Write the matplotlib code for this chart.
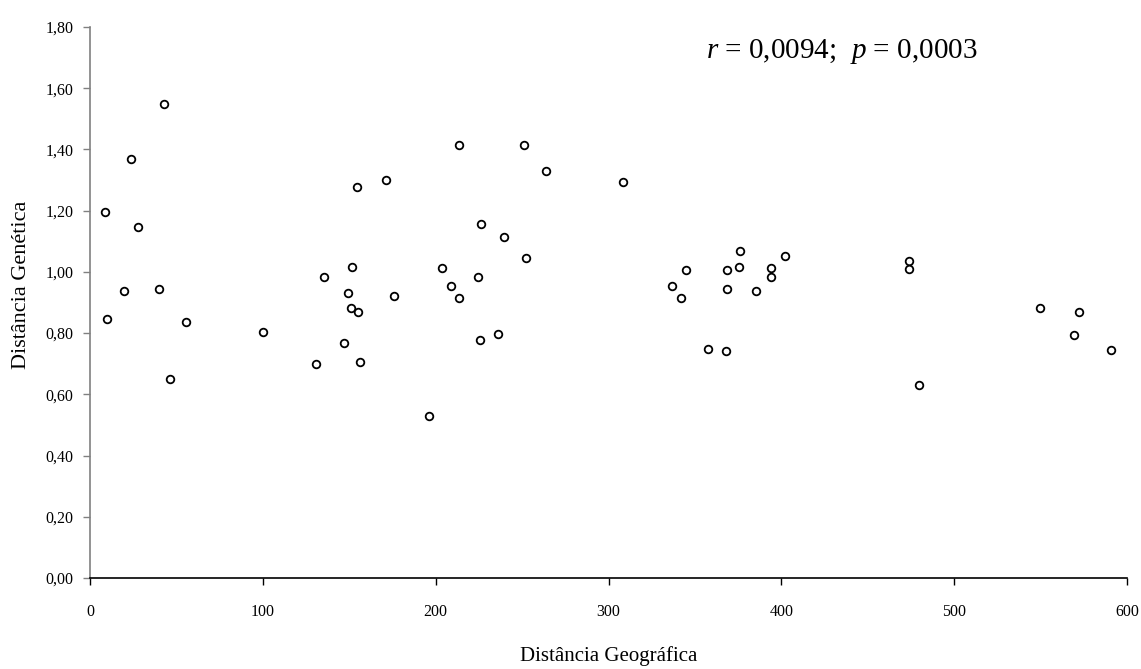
import matplotlib
matplotlib.use("Agg")
import matplotlib.pyplot as plt
from matplotlib.ticker import FuncFormatter

# Data
geo_dist = [43.0, 23.7, 8.7, 28.0, 19.5, 39.7, 9.6, 55.6, 100.0, 46.3,
            213.7, 251.3, 263.9, 171.1, 154.3, 226.5, 239.6, 252.3, 151.8, 203.5,
            135.2, 224.7, 208.7, 149.3, 176.1, 213.7, 151.2, 155.3, 236.3, 146.8,
            225.5, 130.8, 156.1, 196.2,
            308.3, 345.1, 336.8, 341.8, 357.6, 367.7,
            376.2, 402.2, 375.4, 368.8, 393.9, 393.9, 368.8, 385.4,
            474.1, 474.1, 479.9, 549.4, 572.2, 569.6, 590.5]
gen_dist = [1.549, 1.368, 1.197, 1.147, 0.938, 0.943, 0.846, 0.835, 0.802, 0.649,
            1.414, 1.414, 1.328, 1.299, 1.277, 1.158, 1.113, 1.046, 1.017, 1.012,
            0.983, 0.983, 0.954, 0.931, 0.922, 0.914, 0.881, 0.869, 0.797, 0.768,
            0.779, 0.698, 0.706, 0.530,
            1.294, 1.005, 0.954, 0.914, 0.749, 0.740,
            1.068, 1.051, 1.017, 1.005, 1.012, 0.982, 0.943, 0.938,
            1.035, 1.010, 0.632, 0.881, 0.870, 0.795, 0.746]
x_ticks = [0, 100, 200, 300, 400, 500, 600]
y_ticks = [0.0, 0.2, 0.4, 0.6, 0.8, 1.0, 1.2, 1.4, 1.6, 1.8]
x_label = "Distância Geográfica"
y_label = "Distância Genética"
annotation = "$r$ = 0,0094;  $p$ = 0,0003"

plt.rcParams['font.family'] = ['Liberation Serif', 'DejaVu Serif']
plt.rcParams['mathtext.fontset'] = 'custom'
plt.rcParams['mathtext.it'] = 'Liberation Serif:italic'
plt.rcParams['mathtext.rm'] = 'Liberation Serif'

W, H = 1141, 669
L, R, T, B = 90, 1127, 27, 578
fig = plt.figure(figsize=(W/100, H/100), dpi=100)
ax = fig.add_axes([L/W, 1-B/H, (R-L)/W, (B-T)/H])

ax.scatter(geo_dist, gen_dist, s=30, facecolors='white', edgecolors='black',
           linewidths=1.3, zorder=3, clip_on=False)

ax.set_xlim(0, 600)
ax.set_ylim(0, 1.8)
ax.set_xticks(x_ticks)
ax.set_yticks(y_ticks)
ax.yaxis.set_major_formatter(FuncFormatter(lambda v, p: f"{v:.2f}".replace('.', ',')))
ax.tick_params(axis='x', direction='out', length=5, width=1, labelsize=11.5, pad=14, color='black')
ax.tick_params(axis='y', direction='out', length=5, width=1, labelsize=11.5, pad=7, color='#808080')

for s in ['top', 'right']:
    ax.spines[s].set_visible(False)
ax.spines['left'].set_color('#808080')
ax.spines['left'].set_linewidth(1.2)
ax.spines['bottom'].set_color('black')
ax.spines['bottom'].set_linewidth(1.2)

ax.set_xlabel(x_label, fontsize=15, va='center')
ax.xaxis.set_label_coords(0.5, -(656-B)/(B-T))
ax.set_ylabel(y_label, fontsize=16, va='center')
ax.yaxis.set_label_coords(-(L-22)/(R-L), (B-285)/(B-T))

ax.text(356.5, 1.72, annotation, fontsize=21, ha='left', va='center')

fig.savefig("out.png", dpi=100)
